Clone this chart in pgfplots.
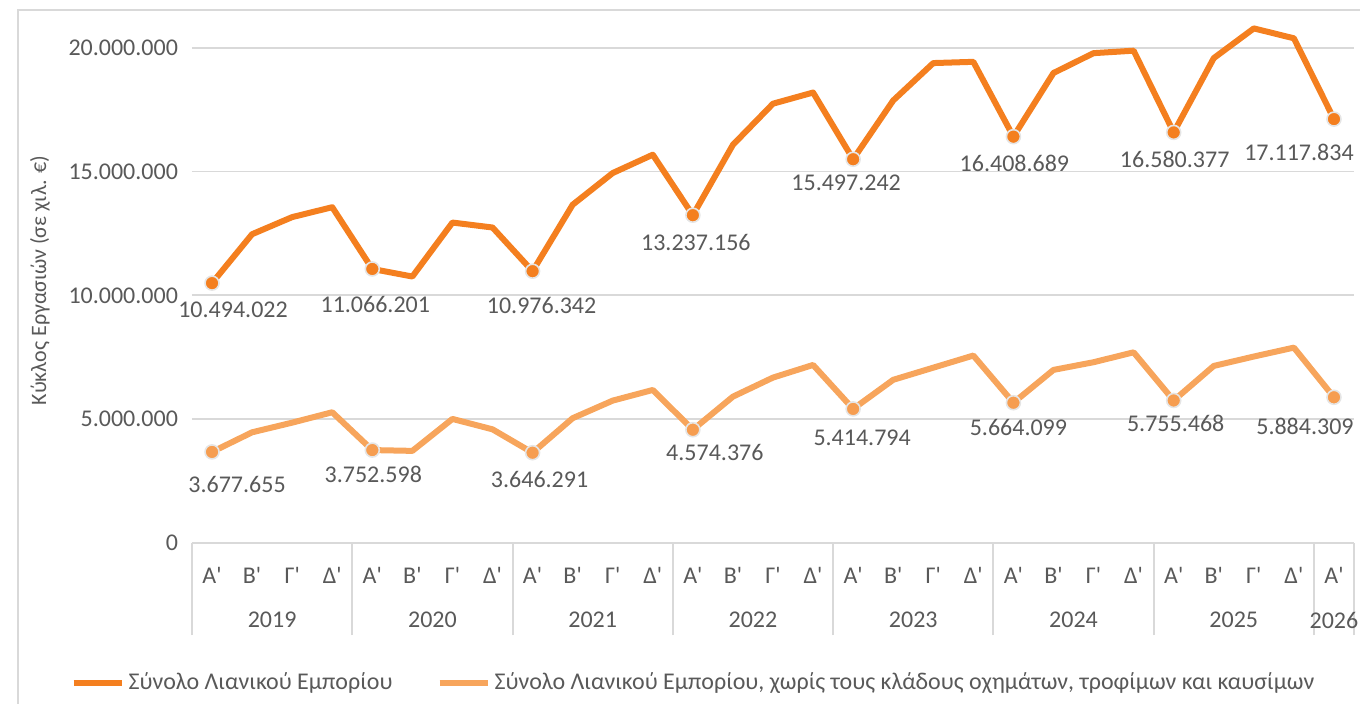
\documentclass[border=0pt]{standalone}
\usepackage{fontspec}
\setmainfont{Carlito}
\usepackage{pgfplots}
\pgfplotsset{compat=1.18}
\usepackage{pgfplotstable}
\definecolor{sone}{HTML}{F47F1F}
\definecolor{stwo}{HTML}{F7A55C}
\definecolor{txt}{HTML}{595959}
\definecolor{gridc}{HTML}{D9D9D9}
\newcommand\q{\textquotesingle}
\newcommand\fs[1]{\fontsize{#1bp}{#1bp}\selectfont}

\pgfplotstableread{
x a b
0 10494022 3677655
1 12470000 4470000
2 13160000 4860000
3 13560000 5280000
4 11066201 3752598
5 10760000 3720000
6 12940000 5010000
7 12740000 4590000
8 10976342 3646291
9 13660000 5040000
10 14940000 5750000
11 15680000 6180000
12 13237156 4574376
13 16080000 5910000
14 17740000 6680000
15 18190000 7190000
16 15497242 5414794
17 17870000 6590000
18 19380000 7080000
19 19430000 7570000
20 16408689 5664099
21 18980000 6990000
22 19780000 7300000
23 19880000 7700000
24 16580377 5755468
25 19580000 7150000
26 20780000 7530000
27 20380000 7890000
28 17117834 5884309
}\data

\pgfplotstableread{
x a la dxa dya b lb dxb dyb
0 10494022 10.494.022 10.5 13.5 3677655 3.677.655 12.5 16.5
4 11066201 11.066.201 1.5 18 3752598 3.752.598 0.5 12
8 10976342 10.976.342 4.5 17 3646291 3.646.291 3.5 13.5
12 13237156 13.237.156 1.5 13.5 4574376 4.574.376 11 11.5
16 15497242 15.497.242 -3.5 12 5414794 5.414.794 4.5 14.5
20 16408689 16.408.689 0.5 13.5 5664099 5.664.099 2.5 12.5
24 16580377 16.580.377 0.5 13.5 5755468 5.755.468 1 11.5
28 17117834 17.117.834 -17.5 16.5 5884309 5.884.309 -14.5 14.5
}\lbl

\begin{document}
\begin{tikzpicture}
\begin{axis}[
  at={(0,0)}, anchor=south west,
  scale only axis, width=581bp, height=262.5bp,
  xmin=-0.5, xmax=28.5, ymin=0, ymax=21.2e6,
  scaled y ticks=false,
  axis line style={draw=none},
  ytick={0,5e6,10e6,15e6,20e6},
  yticklabels={0,5.000.000,10.000.000,15.000.000,20.000.000},
  ymajorgrids, grid style={draw=gridc, line width=0.9bp},
  major tick length=0pt,
  yticklabel style={font=\fs{12}, text=txt, anchor=east, xshift=-3.5bp},
  xtick={0,...,28},
  xticklabels={Α\q,Β\q,Γ\q,Δ\q,Α\q,Β\q,Γ\q,Δ\q,Α\q,Β\q,Γ\q,Δ\q,Α\q,Β\q,Γ\q,Δ\q,Α\q,Β\q,Γ\q,Δ\q,Α\q,Β\q,Γ\q,Δ\q,Α\q,Β\q,Γ\q,Δ\q,Α\q},
  xticklabel style={font=\fs{12}, text=txt, anchor=center, yshift=-16bp},
  xtick pos=bottom, ytick pos=left,
  extra x ticks={-0.5,3.5,7.5,11.5,15.5,19.5,23.5,27.5,28.5},
  extra x tick labels={},
  extra x tick style={grid=none, major tick length=46bp, tick align=outside, tick style={draw=gridc, line width=1bp}},
  ylabel={Κύκλος Εργασιών (σε χιλ. €)},
  every axis y label/.style={at={(-0.1308,0.5)}, rotate=90, anchor=center, font=\fs{11}, text=txt},
  legend style={at={(-0.11,-0.2667)}, anchor=west, draw=none, fill=none, font=\fs{12}, text=txt, legend columns=2, /tikz/every even column/.append style={column sep=20bp}},
  legend cell align=left,
  legend image code/.code={\draw[#1, line width=3bp] (0bp,0bp) -- (24bp,0bp);},
  clip=false,
]
\addplot[sone, line width=3bp, line join=round] table[x=x,y=a]{\data};
\addlegendentry{Σύνολο Λιανικού Εμπορίου}
\addplot[stwo, line width=3bp, line join=round] table[x=x,y=b]{\data};
\addlegendentry{Σύνολο Λιανικού Εμπορίου, χωρίς τους κλάδους οχημάτων, τροφίμων και καυσίμων}
\addplot[forget plot, only marks, mark=*, mark size=3.5bp,
  mark options={fill=sone, draw=white!80!gray, line width=0.8bp},
  nodes near coords, point meta=explicit symbolic,
  visualization depends on={\thisrow{dxa} \as \dx},
  visualization depends on={\thisrow{dya} \as \dy},
  every node near coord/.append style={anchor=center, xshift=\dx bp, yshift=-\dy bp, font=\fs{12}, text=txt}]
  table[x=x, y=a, meta=la]{\lbl};
\addplot[forget plot, only marks, mark=*, mark size=3.5bp,
  mark options={fill=stwo!80!sone, draw=white!80!gray, line width=0.8bp},
  nodes near coords, point meta=explicit symbolic,
  visualization depends on={\thisrow{dxb} \as \dx},
  visualization depends on={\thisrow{dyb} \as \dy},
  every node near coord/.append style={anchor=center, xshift=\dx bp, yshift=-\dy bp, font=\fs{12}, text=txt}]
  table[x=x, y=b, meta=lb]{\lbl};
\end{axis}
\begin{axis}[
  at={(0,0)}, anchor=south west,
  scale only axis, width=581bp, height=262.5bp,
  xmin=-0.5, xmax=28.5, ymin=0, ymax=1,
  axis line style={draw=none}, ytick=\empty,
  xtick={1.5,5.5,9.5,13.5,17.5,21.5,25.5,28},
  xticklabels={2019,2020,2021,2022,2023,2024,2025,2026},
  major tick length=0pt, xtick pos=bottom,
  xticklabel style={font=\fs{12}, text=txt, anchor=center, yshift=-38.5bp},
]
\addplot[draw=none] coordinates {(0,0)};
\end{axis}
\draw[gridc, line width=0.75bp] (-87bp,-90bp) -- (-87bp,266.5bp) -- (590bp,266.5bp);
\pgfresetboundingbox
\useasboundingbox (-96bp,-80.5bp) rectangle (584bp,271.5bp);
\end{tikzpicture}
\end{document}
